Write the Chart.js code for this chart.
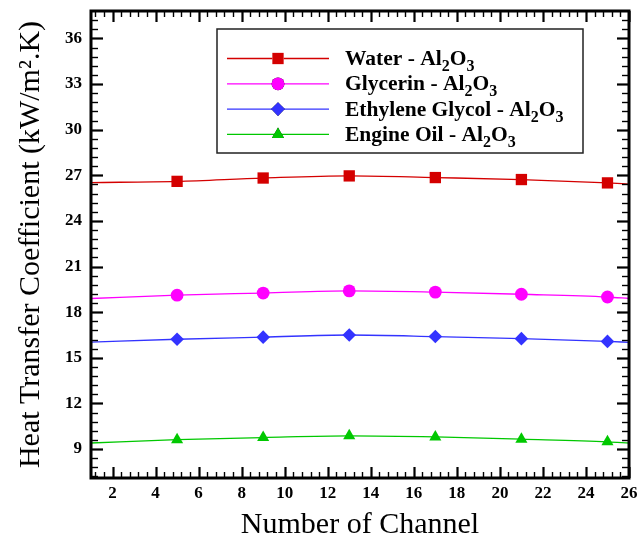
<!DOCTYPE html>
<html>
<head>
<meta charset="utf-8">
<script src="https://cdn.jsdelivr.net/npm/chart.js@4.4.0/dist/chart.umd.min.js"></script>
<style>
  body { margin: 0; background: #fff; }
  #wrap { width: 640px; height: 540px; }
</style>
</head>
<body>
<div id="wrap"><canvas id="chart" width="640" height="540"></canvas></div>
<script>
// x positions: curve ends at 1 and 26, markers at 5..25
const channels = [1, 5, 9, 13, 17, 21, 25, 26];
const water = [26.52, 26.6, 26.82, 26.96, 26.85, 26.72, 26.5, 26.42];
const glycerin = [18.9, 19.12, 19.26, 19.4, 19.32, 19.18, 19.0, 18.9];
const ethylene = [16.03, 16.22, 16.36, 16.5, 16.4, 16.26, 16.08, 16.02];
const engineOil = [9.4, 9.62, 9.76, 9.87, 9.8, 9.65, 9.48, 9.4];

const fluids = ["Water", "Glycerin", "Ethylene Glycol", "Engine Oil"];
const xTicks = [2, 4, 6, 8, 10, 12, 14, 16, 18, 20, 22, 24, 26];
const yTicks = [9, 12, 15, 18, 21, 24, 27, 30, 33, 36];

const serif = "'Liberation Serif', 'Times New Roman', serif";

function toPoints(values) {
  return channels.map((c, i) => ({ x: c, y: values[i] }));
}
function radii(r) {
  return channels.map((c, i) => (i === 0 || i === channels.length - 1 ? 0 : r));
}

const styles = [
  { color: "#d40000", style: "rect", r: 8 },
  { color: "#ff00ff", style: "circle", r: 6.4 },
  { color: "#3333ff", style: "rectRot", r: 6.8 },
  { color: "#00c800", style: "triangle", r: 7 },
];
const series = [water, glycerin, ethylene, engineOil];

const datasets = series.map((vals, k) => ({
  label: fluids[k] + " - Al₂O₃",
  data: toPoints(vals),
  borderColor: styles[k].color,
  backgroundColor: styles[k].color,
  borderWidth: 1.3,
  pointStyle: styles[k].style,
  pointRadius: radii(styles[k].r),
  pointBorderWidth: 0,
  pointHoverRadius: radii(styles[k].r),
  cubicInterpolationMode: "monotone",
}));

// inward tick marks on all four sides + thick frame
const framePlugin = {
  id: "frame",
  afterDraw(chart) {
    const { ctx, chartArea: a, scales } = chart;
    const xs = scales.x, ys = scales.y;
    ctx.save();
    ctx.strokeStyle = "#000";
    const tick = (x1, y1, x2, y2, w) => {
      ctx.lineWidth = w;
      ctx.beginPath();
      ctx.moveTo(x1, y1);
      ctx.lineTo(x2, y2);
      ctx.stroke();
    };
    for (let v = 1.2; v < 26; v += 0.4) {
      const major = Math.abs(v / 2 - Math.round(v / 2)) < 0.01;
      const p = Math.round(xs.getPixelForValue(v)) + 0.5;
      const len = major ? 11 : 6;
      const w = major ? 2.2 : 1.4;
      tick(p, a.bottom, p, a.bottom - len, w);
      tick(p, a.top, p, a.top + len, w);
    }
    for (let v = 7.2; v < 37.8; v += 0.6) {
      const major = Math.abs(v / 3 - Math.round(v / 3)) < 0.01;
      const p = Math.round(ys.getPixelForValue(v)) + 0.5;
      const len = major ? 12 : 7;
      const w = major ? 2.2 : 1.4;
      tick(a.left, p, a.left + len, p, w);
      tick(a.right, p, a.right - len, p, w);
    }
    ctx.lineWidth = 3;
    ctx.strokeRect(a.left, a.top, a.right - a.left, a.bottom - a.top);
    ctx.restore();
  },
};

// legend with subscripted formula
const legendPlugin = {
  id: "subLegend",
  afterDraw(chart) {
    const { ctx } = chart;
    const box = { x: 217, y: 29, w: 366, h: 124 };
    ctx.save();
    ctx.fillStyle = "#fff";
    ctx.fillRect(box.x, box.y, box.w, box.h);
    ctx.strokeStyle = "#222";
    ctx.lineWidth = 1.5;
    ctx.strokeRect(box.x, box.y, box.w, box.h);
    chart.data.datasets.forEach((ds, k) => {
      const y = 58.5 + k * 25.3;
      ctx.strokeStyle = ds.borderColor;
      ctx.lineWidth = 1.3;
      ctx.beginPath();
      ctx.moveTo(227, y);
      ctx.lineTo(329, y);
      ctx.stroke();
      Chart.helpers.drawPoint(ctx, {
        pointStyle: ds.pointStyle,
        radius: styles[k].r,
        rotation: 0,
        borderWidth: 0,
      }, 278, y);
      ctx.fillStyle = ds.borderColor;
      ctx.fill();
      ctx.fillStyle = "#000";
      ctx.textBaseline = "alphabetic";
      ctx.textAlign = "left";
      const big = "bold 21.5px " + serif, small = "bold 16px " + serif;
      const parts = [[fluids[k] + " - Al", big, 0], ["2", small, 6], ["O", big, 0], ["3", small, 6]];
      let x = 345;
      parts.forEach(([t, f, dy]) => {
        ctx.font = f;
        ctx.fillText(t, x, y + 6.5 + dy);
        x += ctx.measureText(t).width;
      });
    });
    ctx.restore();
  },
};

new Chart(document.getElementById("chart"), {
  type: "line",
  data: { datasets },
  plugins: [framePlugin, legendPlugin],
  options: {
    responsive: false,
    animation: false,
    layout: { padding: { top: 11, right: 11, left: 0, bottom: 0 } },
    plugins: { legend: { display: false }, tooltip: { enabled: false } },
    scales: {
      x: {
        type: "linear",
        min: 1,
        max: 26,
        afterBuildTicks: (s) => { s.ticks = xTicks.map((v) => ({ value: v })); },
        afterFit: (s) => { s.height = 62; s.paddingLeft = 0; s.paddingRight = 0; },
        grid: { display: false, drawTicks: false, tickLength: 0 },
        border: { display: false },
        ticks: {
          padding: 5,
          color: "#000",
          maxRotation: 0,
          autoSkip: false,
          font: { family: serif, size: 17, weight: "bold" },
        },
        title: {
          display: true,
          text: "Number of Channel",
          color: "#000",
          font: { family: serif, size: 30, lineHeight: 1 },
          padding: { top: 0, bottom: 0 },
        },
      },
      y: {
        type: "linear",
        min: 7.1,
        max: 37.8,
        afterBuildTicks: (s) => { s.ticks = yTicks.map((v) => ({ value: v })); },
        afterFit: (s) => { s.width = 91; s.paddingTop = 0; s.paddingBottom = 0; },
        grid: { display: false, drawTicks: false, tickLength: 0 },
        border: { display: false },
        ticks: {
          padding: 9,
          color: "#000",
          autoSkip: false,
          font: { family: serif, size: 17, weight: "bold" },
        },
        title: {
          display: true,
          text: "Heat Transfer Coefficient (kW/m².K)",
          color: "#000",
          font: { family: serif, size: 30, lineHeight: 1 },
          padding: { top: 16, bottom: 0 },
        },
      },
    },
  },
});
</script>
</body>
</html>
